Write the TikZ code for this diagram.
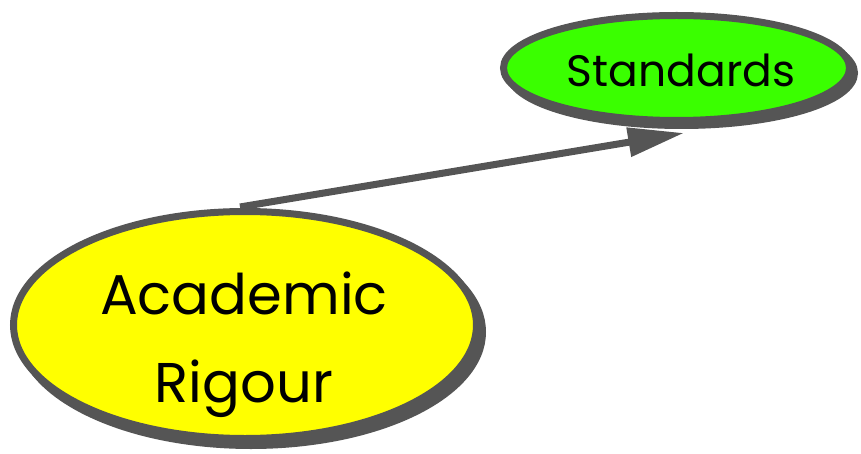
\documentclass[tikz,border=0pt]{standalone}
\usepackage{fontspec}
\setmainfont{Poppins}
\usetikzlibrary{shapes.geometric,arrows.meta}
\definecolor{edgegray}{HTML}{555555}
\definecolor{brightgreen}{HTML}{3AFF00}
\definecolor{brightyellow}{HTML}{FFFF00}
\tikzset{
  bubble/.style={ellipse, draw=edgegray, line width=7pt, inner sep=0pt},
  bubshadow/.style={ellipse, fill=edgegray, draw=edgegray, line width=7pt, inner sep=0pt},
  link/.style={draw=edgegray, line width=7pt, -{Triangle[length=56pt,width=28pt]}}
}
\begin{document}
\begin{tikzpicture}[x=1pt,y=-1pt]
\useasboundingbox (0,0) rectangle (861,454);
% shadows
\node[bubshadow, minimum width=346pt, minimum height=105pt] (stdsh) at (681.5,73) {};
\node[bubshadow, minimum width=463pt, minimum height=227pt] (arsh) at (251,332) {};
% connector
\coordinate (tip) at (684,133);
\draw[link] (240,207) coordinate (start) -- (tip);
% main bubbles
\node[bubble, fill=brightgreen, minimum width=346pt, minimum height=105pt] (std) at (676.5,68) {};
\node[bubble, fill=brightyellow, minimum width=463pt, minimum height=227pt] (ar) at (245,325) {};
% labels
\node[font=\fontsize{44}{48}\selectfont] (stdtxt) at (681,70) {Standards};
\node[font=\fontsize{56}{88}\selectfont, align=center] (artxt) at (244,345) {Academic\\Rigour};
\end{tikzpicture}
\end{document}
